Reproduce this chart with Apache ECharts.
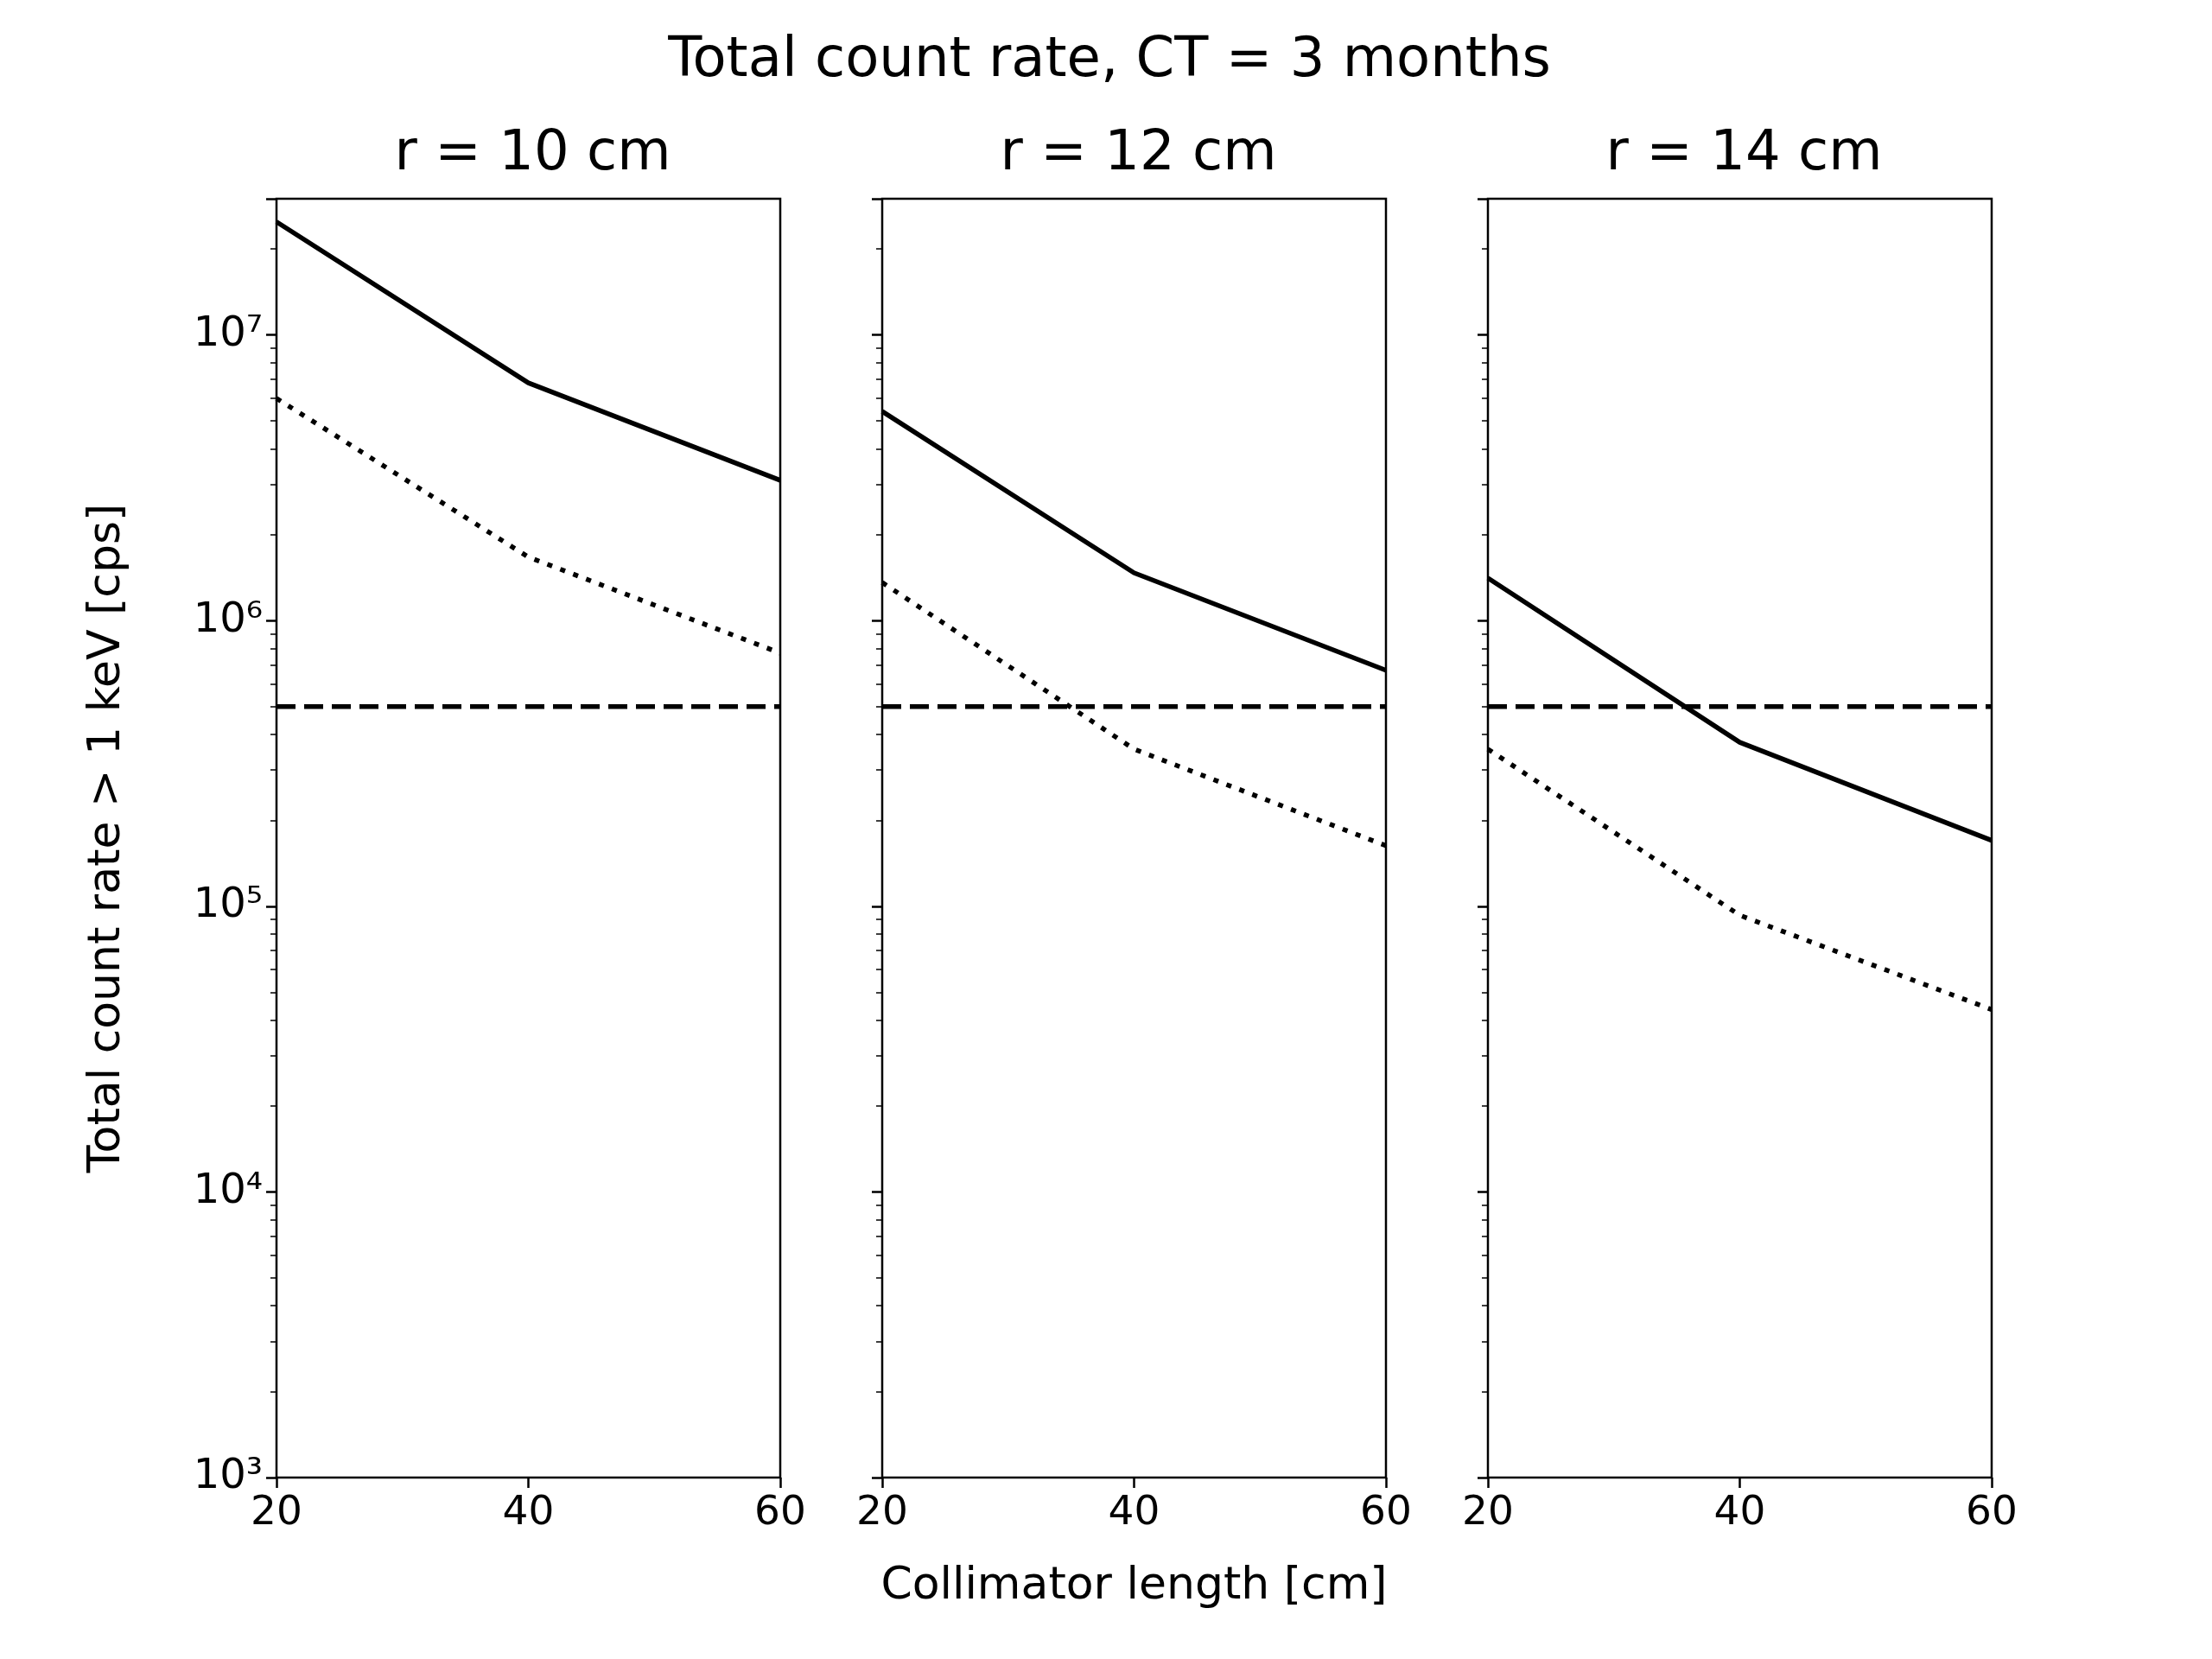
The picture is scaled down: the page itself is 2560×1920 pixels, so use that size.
<!DOCTYPE html>
<html>
<head>
<meta charset="utf-8">
<script src="https://cdn.jsdelivr.net/npm/echarts@6/dist/echarts.min.js"></script>
<style>html,body{margin:0;background:#fff}#main{width:2560px;height:1920px}</style>
</head>
<body>
<div id="main"></div>
<script>
var lengths = [20, 40, 60];
var titles = ['r = 10 cm', 'r = 12 cm', 'r = 14 cm'];
var totalRate = [
    [2.49e7, 6.8e6, 3.1e6],
    [5.4e6, 1.47e6, 6.7e5],
    [1.41e6, 3.75e5, 1.7e5]
];
var partialRate = [
    [6.0e6, 1.67e6, 7.7e5],
    [1.36e6, 3.55e5, 1.63e5],
    [3.55e5, 9.3e4, 4.35e4]
];
var limitRate = 5e5;

var lefts = [320, 1021, 1722];
var W = 583, TOP = 230, H = 1480;
var font = 'DejaVu Sans';
var sup = {'0':'⁰','1':'¹','2':'²','3':'³','4':'⁴','5':'⁵','6':'⁶','7':'⁷','8':'⁸','9':'⁹'};

var grids = [], xAxes = [], yAxes = [], series = [], titleList = [];
for (var i = 0; i < 3; i++) {
    grids.push({left: lefts[i], top: TOP, width: W, height: H, show: true,
        borderColor: '#000', borderWidth: 2.5, backgroundColor: 'transparent'});
    xAxes.push({type: 'value', gridIndex: i, min: 20, max: 60, interval: 20,
        axisLine: {show: false}, splitLine: {show: false},
        axisTick: {show: true, length: 12, lineStyle: {color: '#000', width: 2.5}},
        axisLabel: {fontSize: 47, color: '#000', fontFamily: font, margin: 18},
        name: i === 1 ? 'Collimator length [cm]' : '', nameLocation: 'middle', nameGap: 100,
        nameTextStyle: {fontSize: 52, color: '#000', fontFamily: font}});
    yAxes.push({type: 'log', gridIndex: i, min: 1e3, max: 3e7, logBase: 10,
        axisLine: {show: false}, splitLine: {show: false},
        axisTick: {show: true, length: 12, lineStyle: {color: '#000', width: 2.5}},
        minorTick: {show: true, splitNumber: 9, length: 7, lineStyle: {color: '#000', width: 1.5}},
        axisLabel: {show: i === 0, showMaxLabel: false, fontSize: 48, color: '#000', fontFamily: font, margin: 16,
            formatter: function (v) {
                var e = String(Math.round(Math.log10(v)));
                return '10' + e.split('').map(function (c) { return sup[c]; }).join('');
            }},
        name: i === 0 ? 'Total count rate > 1 keV [cps]' : '', nameLocation: 'middle', nameGap: 170,
        nameTextStyle: {fontSize: 52, color: '#000', fontFamily: font}});
    titleList.push({text: titles[i], left: lefts[i] + W / 2, top: 142, textAlign: 'center',
        textStyle: {fontSize: 64, fontWeight: 'normal', color: '#000', fontFamily: font}});
    var mk = function (vals) { return lengths.map(function (x, k) { return [x, vals[k]]; }); };
    series.push({type: 'line', xAxisIndex: i, yAxisIndex: i, data: mk(totalRate[i]), symbol: 'none',
        lineStyle: {color: '#000', width: 5.5}});
    series.push({type: 'line', xAxisIndex: i, yAxisIndex: i, data: mk(partialRate[i]), symbol: 'none',
        lineStyle: {color: '#000', width: 5.5, type: [6, 10]}});
    series.push({type: 'line', xAxisIndex: i, yAxisIndex: i, data: [[20, limitRate], [60, limitRate]], symbol: 'none',
        lineStyle: {color: '#000', width: 5.5, type: [22, 10]}});
}
titleList.push({text: 'Total count rate, CT = 3 months', left: 1279, top: 34, textAlign: 'center',
    textStyle: {fontSize: 64, fontWeight: 'normal', color: '#000', fontFamily: font}});

var myChart = echarts.init(document.getElementById('main'));
myChart.setOption({
    animation: false,
    title: titleList,
    grid: grids,
    xAxis: xAxes,
    yAxis: yAxes,
    series: series
});
</script>
</body>
</html>
